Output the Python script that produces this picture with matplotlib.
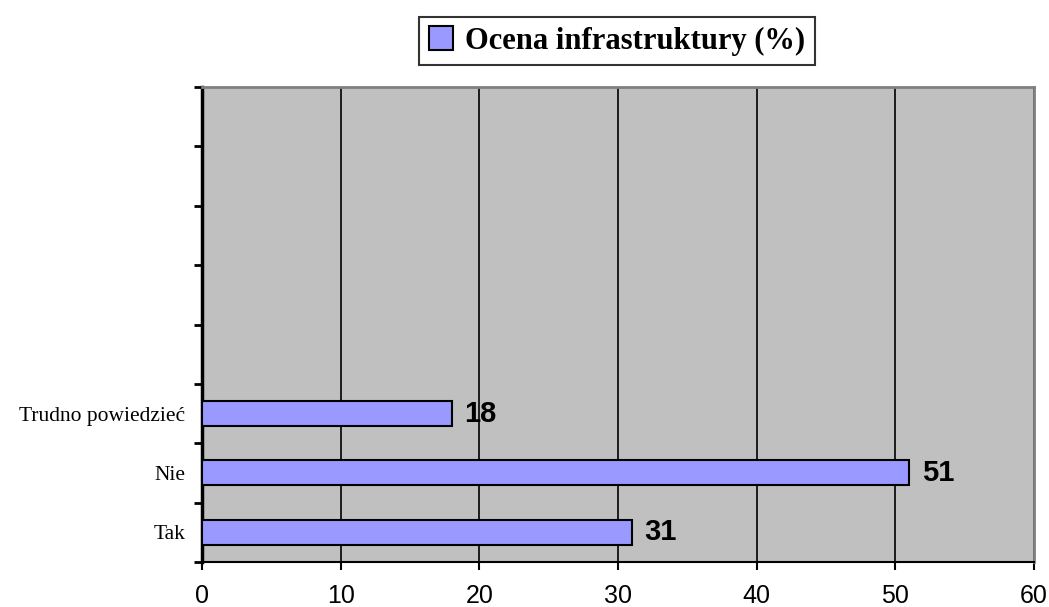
import matplotlib.pyplot as plt
import numpy as np

categories = ['Tak', 'Nie', 'Trudno powiedzieć']
values = [31, 51, 18]
n_slots = 8
x_ticks = [0, 10, 20, 30, 40, 50, 60]
legend_label = 'Ocena infrastruktury (%)'

bar_color = '#9999FF'
plot_bg = '#C0C0C0'

fig = plt.figure(figsize=(10.49, 6.07), dpi=100)
ax = fig.add_axes([202 / 1049, 45 / 607, 832 / 1049, 475 / 607])
ax.set_facecolor(plot_bg)

pos = np.arange(len(categories))
bars = ax.barh(pos, values, height=0.42, color=bar_color, edgecolor='black',
               linewidth=1.5, zorder=3, label=legend_label)

for p, v in zip(pos, values):
    ax.text(v + 0.9, p, str(v), va='center', ha='left', fontsize=21,
            fontweight='bold', family='Liberation Sans', zorder=2)

ax.set_xlim(0, 60)
ax.set_ylim(-0.5, n_slots - 0.5)
ax.set_xticks(x_ticks)
ax.set_xticklabels([str(t) for t in x_ticks], family='Liberation Sans', fontsize=18)
ax.xaxis.grid(True, color='black', linewidth=1.2, zorder=1)
ax.set_axisbelow(True)

ax.set_yticks(pos)
ax.set_yticklabels(categories, family='Liberation Serif', fontsize=15.5)
ax.set_yticks(np.arange(-0.5, n_slots, 1), minor=True)
ax.tick_params(axis='y', which='major', length=0, pad=12)
ax.tick_params(axis='y', which='minor', length=6, width=2, direction='out')
ax.tick_params(axis='x', length=6, width=1.5, direction='out', pad=10)

for side in ['top', 'right']:
    ax.spines[side].set_color('#808080')
    ax.spines[side].set_linewidth(2)
ax.spines['left'].set_linewidth(2.5)
ax.spines['bottom'].set_linewidth(1.5)

leg = fig.legend(handles=[bars], labels=[legend_label], loc='center',
                 bbox_to_anchor=(617 / 1049, 1 - 41 / 607), frameon=True,
                 fancybox=False, edgecolor='black', handlelength=0.8,
                 handleheight=0.8, handletextpad=0.4, borderpad=0.3,
                 prop={'family': 'Liberation Serif', 'weight': 'bold', 'size': 22})
leg.get_frame().set_linewidth(1.5)

fig.savefig('out.png', dpi=100)
